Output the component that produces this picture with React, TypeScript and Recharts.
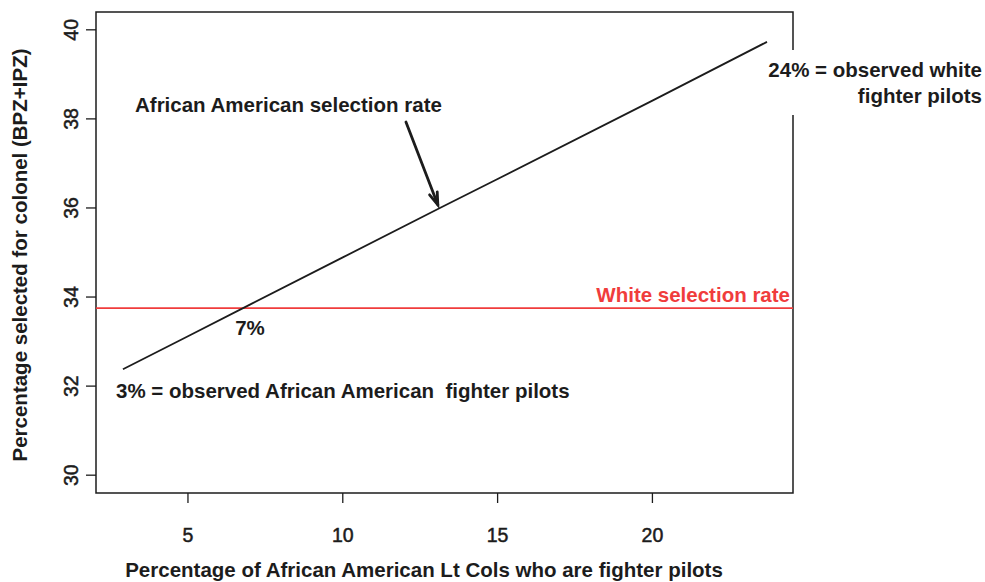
import { LineChart, Line, XAxis, YAxis, ReferenceLine, ReferenceArea } from "recharts";

// values
const pilotPct = [2.9, 5, 7, 10, 13.2, 15, 20, 23.7];
const selectionRate = [32.38, 33.12, 33.83, 34.89, 36.02, 36.65, 38.41, 39.73];
const whiteRate = 33.75;
const xTicks = [5, 10, 15, 20];
const yTicks = [30, 32, 34, 36, 38, 40];
const xDomain = [2.03, 24.54];
const yDomain = [29.6, 40.4];
// arrow from the label down to the line, in data units
const arrowFrom = { x: 12.04, y: 37.93 };
const arrowTo = { x: 13.07, y: 36.07 };

const data = pilotPct.map((x, i) => ({ x, rate: selectionRate[i] }));

const FONT = '"Liberation Sans", Arial, Helvetica, sans-serif';
const INK = "#1c1c1c";
const RED = "#f03c3c";

// ticks in the picture are a touch heavier than plain regular
const tickText = { fontSize: 19.5, fill: INK, fontFamily: FONT, stroke: INK, strokeWidth: 0.5 };

const XTick = ({ x, y, payload }: any) => (
  <text x={x} y={y + 39} textAnchor="middle" {...tickText}>
    {payload.value}
  </text>
);

const YTick = ({ x, y, payload }: any) => (
  <text x={x - 8} y={y} transform={`rotate(-90, ${x - 8}, ${y})`} textAnchor="middle" {...tickText}>
    {payload.value}
  </text>
);

const Arrow = (p: any) => {
  const { x1, y1, x2, y2 } = p;
  const a = Math.atan2(y2 - y1, x2 - x1);
  const len = 13;
  const spread = 0.32;
  const h1x = x2 - len * Math.cos(a - spread);
  const h1y = y2 - len * Math.sin(a - spread);
  const h2x = x2 - len * Math.cos(a + spread);
  const h2y = y2 - len * Math.sin(a + spread);
  return (
    <g stroke={INK} strokeWidth={2.8} fill="none" strokeLinecap="round">
      <line x1={x1} y1={y1} x2={x2} y2={y2} />
      <polyline points={`${h1x},${h1y} ${x2},${y2} ${h2x},${h2y}`} />
    </g>
  );
};

export default function App() {
  const bold = { fontFamily: FONT, fontWeight: 700, fontSize: 20.5, fill: INK };
  return (
    <div style={{ position: "relative", width: 985, height: 582, background: "#fff" }}>
      <style>{"body{margin:0}"}</style>
      <LineChart width={985} height={582} data={data} margin={{ top: 12, right: 192, bottom: 0, left: 0 }}>
        <XAxis
          dataKey="x"
          type="number"
          domain={xDomain}
          allowDataOverflow
          ticks={xTicks}
          height={89}
          axisLine={false}
          tickSize={10}
          tickMargin={0}
          tickLine={{ stroke: INK, strokeWidth: 1.3 }}
          tick={<XTick />}
        />
        <YAxis
          type="number"
          domain={yDomain}
          allowDataOverflow
          ticks={yTicks}
          width={96}
          axisLine={false}
          tickSize={10}
          tickMargin={0}
          tickLine={{ stroke: INK, strokeWidth: 1.3 }}
          tick={<YTick />}
        />
        <ReferenceArea x1={xDomain[0]} x2={xDomain[1]} y1={yDomain[0]} y2={yDomain[1]} fill="none" stroke={INK} strokeWidth={1.5} fillOpacity={0} />
        <ReferenceLine y={whiteRate} stroke={RED} strokeWidth={1.6} />
        <Line dataKey="rate" type="linear" stroke={INK} strokeWidth={1.8} dot={false} isAnimationActive={false} />
        <ReferenceLine segment={[arrowFrom, arrowTo]} shape={<Arrow />} />
      </LineChart>
      <svg width={985} height={582} style={{ position: "absolute", left: 0, top: 0, pointerEvents: "none" }}>
        <rect x={758} y={50} width={227} height={65} fill="#fff" />
        <text x={982} y={77} textAnchor="end" {...bold}>24% = observed white</text>
        <text x={982} y={103} textAnchor="end" {...bold}>fighter pilots</text>
        <text x={135} y={112} {...bold}>African American selection rate</text>
        <text x={790} y={302} textAnchor="end" {...bold} fill={RED}>White selection rate</text>
        <text x={250} y={335} textAnchor="middle" {...bold}>7%</text>
        <text x={116} y={398} {...bold} style={{ whiteSpace: "pre" }}>3% = observed African American  fighter pilots</text>
        <text x={424} y={577} textAnchor="middle" {...bold}>Percentage of African American Lt Cols who are fighter pilots</text>
        <text x={27} y={255} textAnchor="middle" transform="rotate(-90, 27, 255)" {...bold}>Percentage selected for colonel (BPZ+IPZ)</text>
      </svg>
    </div>
  );
}
